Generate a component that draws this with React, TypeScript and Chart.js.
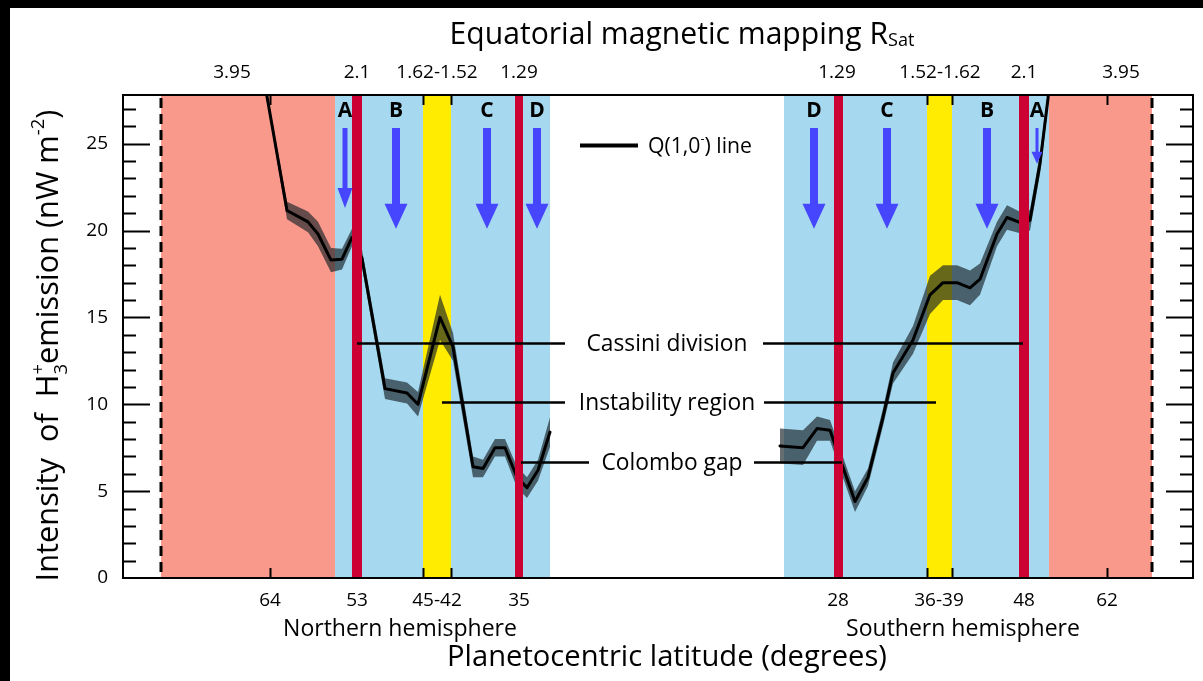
import React, { useEffect, useRef } from "react";
import { Chart, registerables } from "chart.js";

Chart.register(...registerables);

const FONT = '"Open Sans", "Noto Sans", sans-serif';

// x values are positions along the schematic latitude scan (0 = left frame, 1070 = right frame)
const northPos = [137, 164, 185, 195, 208, 219, 229, 239, 262, 284, 295, 317, 330, 350, 360, 372, 382, 394, 404, 415, 427];
const northVal = [30.0, 21.15, 20.5, 19.8, 18.3, 18.35, 19.6, 18.4, 10.9, 10.65, 10.0, 15.0, 13.3, 6.4, 6.3, 7.5, 7.5, 5.8, 5.2, 6.2, 8.4];
const northErr = [0.2, 0.5, 0.6, 0.7, 0.7, 0.6, 0.5, 0.5, 0.6, 0.6, 0.7, 1.3, 0.8, 0.6, 0.5, 0.5, 0.5, 0.6, 0.6, 0.6, 0.85];

const southPos = [657, 680, 694, 707, 732, 745, 760, 770, 790, 807, 820, 834, 847, 857, 874, 884, 900, 907, 917, 925, 929];
const southVal = [7.6, 7.5, 8.6, 8.5, 4.4, 5.8, 9.25, 11.8, 13.7, 16.3, 17.0, 17.0, 16.7, 17.2, 19.8, 20.75, 20.4, 20.6, 23.85, 27.6, 30.0];
const southErr = [1.0, 1.0, 0.7, 0.6, 0.6, 0.5, 0.5, 0.6, 0.8, 1.1, 1.0, 1.0, 1.0, 0.9, 0.7, 0.7, 0.6, 0.6, 0.6, 0.5, 0.5];

const salmonRanges = [[38, 212], [926, 1029]];
const blueRanges = [[212, 427], [661, 926]];
const yellowRanges = [[300, 328], [804, 829]];
const redRanges = [[229, 239], [392, 400], [711, 720], [896, 906]];
const dashedPos = [38, 1029];

const yTickValues = [0, 1, 2, 3, 4, 5, 6, 7, 8, 9, 10, 11, 12, 13, 14, 15, 16, 17, 18, 19, 20, 21, 22, 23, 24, 25, 26, 27];
const yLabelStep = 5;

const bottomTickPos = [147, 234, 314, 396, 715, 816, 901, 984];
const bottomTickLabels = ["64", "53", "45-42", "35", "28", "36-39", "48", "62"];
const tickMarkPos = [147, 300, 328, 804, 829, 984];

const topTickPos = [109, 234, 314, 396, 714, 817, 901, 998];
const topTickLabels = ["3.95", "2.1", "1.62-1.52", "1.29", "1.29", "1.52-1.62", "2.1", "3.95"];

const zoneLetters = ["A", "B", "C", "D", "D", "C", "B", "A"];
const zonePos = [222, 273, 364, 414, 691, 764, 864, 914];
const zoneLetterY = 26.9;
const arrowTopY = 25.9;
const arrowTipY = [21.3, 20.1, 20.1, 20.1, 20.1, 20.1, 20.1, 23.85];

const annotLabels = ["Cassini division", "Instability region", "Colombo gap"];
const annotY = [13.5, 10.1, 6.65];
const annotLeft = [[234, 442], [319, 442], [398, 466]];
const annotRight = [[640, 900], [641, 813], [631, 719]];
const annotLabelPos = [544, 544, 549];

const legendLine = [457, 515];
const legendY = 24.9;

const SALMON = "#f8998b";
const BLUE = "#a6d9ef";
const YELLOW = "#ffec00";
const RED = "#cc0033";
const ARROW = "#4646ff";
const BAND = "rgba(25,35,40,0.66)";

type Part = { t: string; k: number; dy: number; stay?: boolean };

function setFont(ctx: CanvasRenderingContext2D, size: number, bold = false) {
  ctx.font = `${bold ? "bold " : ""}${size}px ${FONT}`;
}
function richWidth(ctx: CanvasRenderingContext2D, parts: Part[], size: number) {
  let w = 0;
  for (const p of parts) {
    setFont(ctx, size * p.k);
    if (!p.stay) w += ctx.measureText(p.t).width;
  }
  return w;
}
function fitSize(ctx: CanvasRenderingContext2D, parts: Part[], target: number) {
  return (30 * target) / richWidth(ctx, parts, 30);
}
function drawRich(ctx: CanvasRenderingContext2D, parts: Part[], size: number, cx: number, baseline: number) {
  const total = richWidth(ctx, parts, size);
  let x = cx - total / 2;
  ctx.textAlign = "left";
  ctx.textBaseline = "alphabetic";
  for (const p of parts) {
    setFont(ctx, size * p.k);
    ctx.fillText(p.t, x, baseline + p.dy * size);
    if (!p.stay) x += ctx.measureText(p.t).width;
  }
}

const decor = {
  id: "decor",
  beforeDraw(chart: any) {
    const { ctx, width, height } = chart;
    ctx.save();
    ctx.fillStyle = "#fff";
    ctx.fillRect(0, 0, width, height);
    ctx.restore();
  },
  beforeDatasetsDraw(chart: any) {
    const { ctx, chartArea: a } = chart;
    const x = chart.scales.x;
    ctx.save();
    const band = (r: number[], c: string) => {
      const x1 = x.getPixelForValue(r[0]);
      const x2 = x.getPixelForValue(r[1]);
      ctx.fillStyle = c;
      ctx.fillRect(x1, a.top, x2 - x1, a.bottom - a.top);
    };
    salmonRanges.forEach((r) => band(r, SALMON));
    blueRanges.forEach((r) => band(r, BLUE));
    yellowRanges.forEach((r) => band(r, YELLOW));
    ctx.strokeStyle = "#000";
    ctx.lineWidth = 3;
    ctx.setLineDash([10, 6]);
    dashedPos.forEach((p) => {
      const px = x.getPixelForValue(p);
      ctx.beginPath();
      ctx.moveTo(px, a.top + 3);
      ctx.lineTo(px, a.bottom);
      ctx.stroke();
    });
    ctx.restore();
  },
  afterDatasetsDraw(chart: any) {
    const { ctx, chartArea: a } = chart;
    const x = chart.scales.x;
    const y = chart.scales.y;
    ctx.save();
    // red boundary lines
    ctx.fillStyle = RED;
    redRanges.forEach((r) => {
      const x1 = x.getPixelForValue(r[0]);
      const x2 = x.getPixelForValue(r[1]);
      ctx.fillRect(x1, a.top, x2 - x1, a.bottom - a.top);
    });

    // arrows
    const yTop = y.getPixelForValue(arrowTopY);
    zonePos.forEach((p, i) => {
      const px = x.getPixelForValue(p);
      const tip = y.getPixelForValue(arrowTipY[i]);
      const small = i === 7;
      const mid = i === 0;
      const sw = small ? 3 : mid ? 5 : 8;
      const hw = small ? 11 : mid ? 15 : 23;
      const hl = small ? 12 : mid ? 20 : 25;
      ctx.fillStyle = ARROW;
      ctx.fillRect(px - sw / 2, yTop, sw, tip - hl - yTop + 1);
      ctx.beginPath();
      ctx.moveTo(px - hw / 2, tip - hl);
      ctx.lineTo(px + hw / 2, tip - hl);
      ctx.lineTo(px, tip);
      ctx.closePath();
      ctx.fill();
    });

    // zone letters
    ctx.fillStyle = "#000";
    setFont(ctx, 21, true);
    ctx.textAlign = "center";
    ctx.textBaseline = "middle";
    zoneLetters.forEach((l, i) => {
      ctx.fillText(l, x.getPixelForValue(zonePos[i]), y.getPixelForValue(zoneLetterY));
    });

    // annotation lines
    ctx.strokeStyle = "#000";
    ctx.lineWidth = 2.5;
    const seg = (r: number[], v: number) => {
      const py = y.getPixelForValue(v);
      ctx.beginPath();
      ctx.moveTo(x.getPixelForValue(r[0]), py);
      ctx.lineTo(x.getPixelForValue(r[1]), py);
      ctx.stroke();
    };
    annotLabels.forEach((_, i) => {
      seg(annotLeft[i], annotY[i]);
      seg(annotRight[i], annotY[i]);
    });
    const annSize = fitSize(ctx, [{ t: annotLabels[0], k: 1, dy: 0 }], 161);
    setFont(ctx, annSize);
    ctx.textAlign = "center";
    ctx.textBaseline = "middle";
    annotLabels.forEach((l, i) => {
      ctx.fillText(l, x.getPixelForValue(annotLabelPos[i]), y.getPixelForValue(annotY[i]) + 1);
    });

    // legend
    ctx.lineWidth = 4;
    seg(legendLine, legendY);
    const legParts: Part[] = [
      { t: "Q(1,0", k: 1, dy: 0 },
      { t: "-", k: 0.6, dy: -0.45 },
      { t: ") line", k: 1, dy: 0 },
    ];
    const legSize = fitSize(ctx, legParts, 104);
    const legW = richWidth(ctx, legParts, legSize);
    drawRich(ctx, legParts, legSize, x.getPixelForValue(legendLine[1]) + 10 + legW / 2, y.getPixelForValue(legendY) + 0.36 * legSize);

    // frame
    ctx.lineWidth = 2;
    ctx.strokeRect(a.left, a.top, a.right - a.left, a.bottom - a.top);

    // y tick marks (inward, both sides)
    yTickValues.forEach((v) => {
      if (v === 0) return;
      const py = Math.round(y.getPixelForValue(v)) + 0.5;
      const len = v % yLabelStep === 0 ? 27 : 13;
      ctx.beginPath();
      ctx.moveTo(a.left, py);
      ctx.lineTo(a.left + len, py);
      ctx.moveTo(a.right, py);
      ctx.lineTo(a.right - len, py);
      ctx.stroke();
    });
    // x tick marks (inward, top and bottom)
    tickMarkPos.forEach((p) => {
      const px = Math.round(x.getPixelForValue(p)) + 0.5;
      ctx.beginPath();
      ctx.moveTo(px, a.bottom);
      ctx.lineTo(px, a.bottom - 10);
      ctx.moveTo(px, a.top);
      ctx.lineTo(px, a.top + 10);
      ctx.stroke();
    });

    // titles
    ctx.fillStyle = "#000";
    const titleParts: Part[] = [
      { t: "Equatorial magnetic mapping R", k: 1, dy: 0 },
      { t: "Sat", k: 0.6, dy: 0.08 },
    ];
    const tSize = fitSize(ctx, titleParts, 465);
    drawRich(ctx, titleParts, tSize, x.getPixelForValue(559), 44);

    const xtParts: Part[] = [{ t: "Planetocentric latitude (degrees)", k: 1, dy: 0 }];
    const xtSize = fitSize(ctx, xtParts, 440);
    drawRich(ctx, xtParts, xtSize, x.getPixelForValue(544), 666);

    const hemN: Part[] = [{ t: "Northern hemisphere", k: 1, dy: 0 }];
    const hemS: Part[] = [{ t: "Southern hemisphere", k: 1, dy: 0 }];
    const hSize = fitSize(ctx, hemN, 234);
    drawRich(ctx, hemN, hSize, x.getPixelForValue(277), 636);
    drawRich(ctx, hemS, hSize, x.getPixelForValue(840), 636);

    const ytParts: Part[] = [
      { t: "Intensity  of  H", k: 1, dy: 0 },
      { t: "3", k: 0.6, dy: 0.28, stay: true },
      { t: "+", k: 0.6, dy: -0.45 },
      { t: "emission (nW m", k: 1, dy: 0 },
      { t: "-2", k: 0.6, dy: -0.45 },
      { t: ")", k: 1, dy: 0 },
    ];
    const ytSize = fitSize(ctx, ytParts, 472);
    ctx.save();
    ctx.translate(47 + 0.36 * ytSize, (a.top + a.bottom) / 2 + 9);
    ctx.rotate(-Math.PI / 2);
    drawRich(ctx, ytParts, ytSize, 0, 0);
    ctx.restore();

    ctx.restore();
  },
  afterDraw(chart: any) {
    const { ctx, width, height } = chart;
    ctx.save();
    ctx.fillStyle = "#000";
    ctx.fillRect(0, 0, width, 8);
    ctx.fillRect(0, 0, 10, height);
    ctx.restore();
  },
};

function pts(pos: number[], val: number[], err: number[], sign: number) {
  return pos.map((p, i) => ({ x: p, y: val[i] + sign * err[i] }));
}

export default function App() {
  const ref = useRef<HTMLCanvasElement>(null);
  useEffect(() => {
    const canvas = ref.current!;
    const lineStyle = {
      borderColor: "#000",
      borderWidth: 3,
      pointRadius: 0,
      fill: false,
      tension: 0,
      borderJoinStyle: "round" as const,
      borderCapStyle: "round" as const,
    };
    const bandStyle = { borderWidth: 0, pointRadius: 0, tension: 0, borderColor: "rgba(0,0,0,0)", backgroundColor: BAND };
    const chart = new Chart(canvas, {
      type: "line",
      data: {
        datasets: [
          { ...lineStyle, label: "Q(1,0-) line north", data: pts(northPos, northVal, northErr, 0) },
          { ...lineStyle, label: "Q(1,0-) line south", data: pts(southPos, southVal, southErr, 0) },
          { ...bandStyle, label: "north upper", data: pts(northPos, northVal, northErr, 1), fill: "+1" },
          { ...bandStyle, label: "north lower", data: pts(northPos, northVal, northErr, -1), fill: false },
          { ...bandStyle, label: "south upper", data: pts(southPos, southVal, southErr, 1), fill: "+1" },
          { ...bandStyle, label: "south lower", data: pts(southPos, southVal, southErr, -1), fill: false },
        ],
      },
      options: {
        animation: false,
        responsive: false,
        maintainAspectRatio: false,
        layout: { padding: { left: 0, right: 10, top: 0, bottom: 0 } },
        plugins: { legend: { display: false }, tooltip: { enabled: false } },
        scales: {
          x: {
            type: "linear",
            position: "bottom",
            min: 0,
            max: 1070,
            grid: { display: false, drawTicks: false },
            border: { display: false },
            afterFit: (s: any) => {
              s.height = 103;
            },
            afterBuildTicks: (s: any) => {
              s.ticks = bottomTickPos.map((v) => ({ value: v }));
            },
            ticks: {
              autoSkip: false,
              maxRotation: 0,
              minRotation: 0,
              padding: 11,
              color: "#000",
              font: { family: FONT, size: 19 },
              callback: (_v: any, i: number) => bottomTickLabels[i],
            },
          },
          x2: {
            type: "linear",
            position: "top",
            min: 0,
            max: 1070,
            grid: { display: false, drawTicks: false },
            border: { display: false },
            afterFit: (s: any) => {
              s.height = 95;
            },
            afterBuildTicks: (s: any) => {
              s.ticks = topTickPos.map((v) => ({ value: v }));
            },
            ticks: {
              autoSkip: false,
              maxRotation: 0,
              minRotation: 0,
              padding: 11,
              color: "#000",
              font: { family: FONT, size: 19 },
              callback: (_v: any, i: number) => topTickLabels[i],
            },
          },
          y: {
            type: "linear",
            min: 0,
            max: 27.8,
            grid: { display: false, drawTicks: false },
            border: { display: false },
            afterFit: (s: any) => {
              s.width = 123;
            },
            afterBuildTicks: (s: any) => {
              s.ticks = yTickValues.map((v) => ({ value: v }));
            },
            ticks: {
              autoSkip: false,
              padding: 15,
              color: "#000",
              font: { family: FONT, size: 19 },
              callback: (v: any) => (Number(v) % yLabelStep === 0 ? String(v) : ""),
            },
          },
        },
      },
      plugins: [decor],
    } as any);
    return () => chart.destroy();
  }, []);
  return (
    <div style={{ position: "absolute", left: 0, top: 0, width: 1203, height: 681, background: "#fff" }}>
      <canvas ref={ref} width={1203} height={681} style={{ display: "block", width: 1203, height: 681 }} />
    </div>
  );
}
